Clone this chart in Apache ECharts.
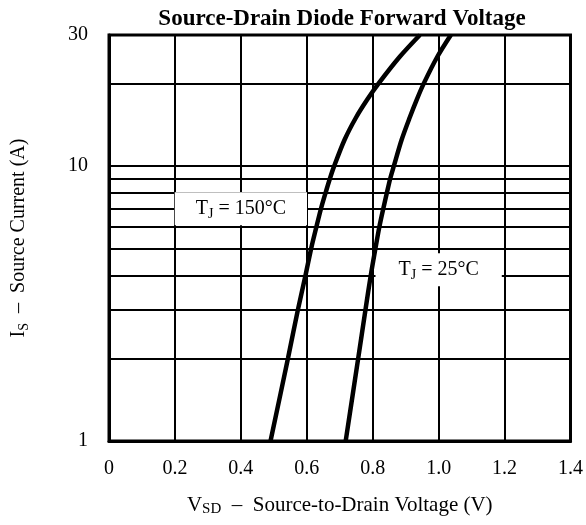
<!DOCTYPE html>
<html>
<head>
<meta charset="utf-8">
<script src="https://cdn.jsdelivr.net/npm/echarts@6/dist/echarts.min.js"></script>
<style>html,body{margin:0;padding:0;background:#fff}#c{width:586px;height:525px}</style>
</head>
<body>
<div id="c"></div>
<script>
// Data
const yLabelValues = [1, 10, 30];
const hGridValues = [2, 3, 4, 5, 6, 7, 8, 9, 10, 20];
const vsd150 = [0.49, 0.543, 0.573, 0.596, 0.613, 0.629, 0.643, 0.657, 0.670, 0.683, 0.715, 0.749, 0.784, 0.818, 0.882, 0.943];
const is150  = [1,    2,     3,     4,     5,     6,     7,     8,     9,     10,    12.5,  15,    17.5,  20,    25,    30];
const vsd25 = [0.718, 0.756, 0.778, 0.794, 0.808, 0.820, 0.832, 0.843, 0.853, 0.864, 0.888, 0.912, 0.934, 0.955, 0.996, 1.037];
const is25  = [1,     2,     3,     4,     5,     6,     7,     8,     9,     10,    12.5,  15,    17.5,  20,    25,    30];
const label150 = {x: 0.40, y: 7, text: '150°C', padX: 21};
const label25 = {x: 1.0, y: 4.2, text: '25°C', padX: 23};

const font = 'Liberation Serif';
const chart = echarts.init(document.getElementById('c'), null, {renderer: 'canvas'});
const pair = (xs, ys) => xs.map((x, i) => [x, ys[i]]);
const subRich = size => ({
  n: {fontFamily: font, fontSize: size, color: '#000', lineHeight: 24},
  s: {fontFamily: font, fontSize: Math.round(size * 0.7), color: '#000', lineHeight: 24, verticalAlign: 'bottom', padding: [7, 0, 0, 0]}
});
const richLabel = l => ({
  show: true,
  formatter: '{n|T}{s|J}{n| = ' + l.text + '}',
  backgroundColor: '#fff',
  padding: [5, l.padX, 4, l.padX],
  color: '#000',
  rich: subRich(20)
});

chart.setOption({
  animation: false,
  backgroundColor: '#fff',
  title: {
    text: 'Source-Drain Diode Forward Voltage',
    left: 337, top: 3, textAlign: 'center',
    textStyle: {fontFamily: font, fontSize: 23, fontWeight: 'bold', color: '#000'}
  },
  grid: {left: 109, right: 13, top: 35, bottom: 84, show: true, borderColor: '#000', borderWidth: 3, backgroundColor: 'transparent'},
  xAxis: {
    type: 'value', min: 0, max: 1.4, interval: 0.2,
    name: '{n|V}{s|SD}{n|  –  Source-to-Drain Voltage (V)}',
    nameLocation: 'middle', nameGap: 52,
    nameTextStyle: {rich: subRich(21)},
    axisLine: {show: true, lineStyle: {color: '#000', width: 3}},
    axisTick: {show: false},
    axisLabel: {fontFamily: font, fontSize: 20, color: '#000', margin: 18,
      formatter: v => v === 0 ? '0' : v.toFixed(1)},
    splitLine: {show: true, lineStyle: {color: '#000', width: 2}}
  },
  yAxis: {
    type: 'log', logBase: 10, min: 1, max: 30,
    name: '{n|I}{s|S}{n|  –  Source Current (A)}',
    nameLocation: 'middle', nameGap: 78, nameRotate: 90,
    nameTextStyle: {rich: subRich(20)},
    axisLine: {show: true, lineStyle: {color: '#000', width: 3}},
    axisTick: {show: false},
    axisLabel: {fontFamily: font, fontSize: 20, color: '#000', margin: 21,
      customValues: yLabelValues, formatter: v => String(Math.round(v))},
    splitLine: {show: false}
  },
  series: [
    {
      type: 'line', data: [], z: 1, silent: true,
      markLine: {
        silent: true, symbol: 'none', animation: false,
        label: {show: false},
        lineStyle: {color: '#000', width: 2, type: 'solid'},
        data: hGridValues.map(v => ({yAxis: v}))
      }
    },
    {
      type: 'line', data: [], z: 5, silent: true,
      markPoint: {
        silent: true, symbol: 'rect', symbolSize: 0, animation: false,
        data: [
          {coord: [label150.x, label150.y], label: richLabel(label150)},
          {coord: [label25.x, label25.y], label: richLabel(label25)}
        ]
      }
    },
    {
      type: 'line', data: pair(vsd150, is150), smooth: 0.3, showSymbol: false, z: 10,
      lineStyle: {color: '#000', width: 4.5}
    },
    {
      type: 'line', data: pair(vsd25, is25), smooth: 0.3, showSymbol: false, z: 10,
      lineStyle: {color: '#000', width: 4.5}
    }
  ]
});
</script>
</body>
</html>
